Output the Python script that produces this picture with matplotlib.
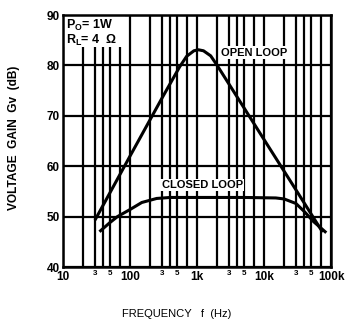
import matplotlib
matplotlib.use("Agg")
import matplotlib.pyplot as plt
from matplotlib.patches import Rectangle

# ---- data ----
open_f = [30, 100, 300, 550, 700, 900, 1050, 1250, 1600, 2000, 3000, 10000, 30000, 75000]
open_gain = [49.3, 62.0, 73.5, 79.7, 81.8, 82.9, 83.1, 82.9, 81.9, 80.0, 76.3, 65.3, 55.3, 46.9]

closed_f = [35, 50, 65, 100, 150, 250, 400, 1000, 5000, 15000, 20000, 30000, 40000, 55000, 85000]
closed_gain = [47.0, 48.8, 50.0, 51.4, 52.8, 53.6, 53.8, 53.8, 53.8, 53.7, 53.5, 52.6, 51.0, 49.0, 46.8]

major_x = [10, 100, 1000, 10000, 100000]
major_x_labels = ["10", "100", "1k", "10k", "100k"]
minor_x = [20, 30, 40, 50, 70, 200, 300, 400, 500, 700,
           2000, 3000, 4000, 5000, 7000, 20000, 30000, 40000, 50000, 70000]
minor_x_labels = ["", "3", "", "5", "", "", "3", "", "5", "",
                  "", "3", "", "5", "", "", "3", "", "5", ""]
y_ticks = [40, 50, 60, 70, 80, 90]
y_tick_labels = ["40", "50", "60", "70", "80", "90"]

FONT = "Liberation Sans"

fig = plt.figure(figsize=(3.45, 3.27), dpi=100)
ax = fig.add_axes([63 / 345, 1 - 267 / 327, (331 - 63) / 345, (267 - 15) / 327])

ax.set_xscale("log")
ax.set_xlim(10, 100000)
ax.set_ylim(40, 90)

ax.set_xticks(major_x)
ax.set_xticklabels(major_x_labels)
ax.set_xticks(minor_x, minor=True)
ax.set_xticklabels(minor_x_labels, minor=True)
ax.set_yticks(y_ticks)
ax.set_yticklabels(y_tick_labels)

ax.tick_params(axis="both", which="both", length=0)
ax.tick_params(axis="x", which="major", labelsize=8.5, pad=3.2)
ax.tick_params(axis="x", which="minor", labelsize=5.8, pad=2.2)
ax.tick_params(axis="y", labelsize=8.5, pad=2.5)
for lab in ax.get_xticklabels(which="both") + ax.get_yticklabels():
    lab.set_fontfamily(FONT)
    lab.set_fontweight("bold")

ax.set_axisbelow(True)
ax.grid(which="both", color="black", linewidth=1.6)
for s in ax.spines.values():
    s.set_linewidth(1.8)

# white box behind the parameter text
ax.add_patch(Rectangle((0, 0.873), 0.232, 0.127, transform=ax.transAxes,
                       facecolor="white", edgecolor="none", zorder=1))
ax.text(0.01, 0.99, r"P$_{\mathregular{O}}$= 1W", transform=ax.transAxes,
        ha="left", va="top", fontsize=9, fontfamily=FONT, fontweight="bold", zorder=3)
ax.text(0.01, 0.93, r"R$_{\mathregular{L}}$= 4  Ω", transform=ax.transAxes,
        ha="left", va="top", fontsize=9, fontfamily=FONT, fontweight="bold", zorder=3)

ax.plot(open_f, open_gain, color="black", linewidth=2.2, zorder=2,
        solid_capstyle="butt", solid_joinstyle="round")
ax.plot(closed_f, closed_gain, color="black", linewidth=2.2, zorder=2,
        solid_capstyle="butt", solid_joinstyle="round")

ax.text(7100, 82.5, "OPEN LOOP", ha="center", va="center", fontsize=8,
        fontfamily=FONT, fontweight="bold", zorder=3,
        bbox=dict(facecolor="white", edgecolor="none", pad=1.0))
ax.text(1200, 56.3, "CLOSED LOOP", ha="center", va="center", fontsize=8,
        fontfamily=FONT, fontweight="bold", zorder=3,
        bbox=dict(facecolor="white", edgecolor="none", pad=1.0))

fig.text(14 / 345, 1 - 138 / 327, "VOLTAGE  GAIN  Gv  (dB)", rotation=90,
         ha="center", va="center", fontsize=8.6, fontfamily=FONT, fontweight="bold")
fig.text(177 / 345, 1 - 314 / 327, "FREQUENCY   f  (Hz)",
         ha="center", va="center", fontsize=8, fontfamily=FONT)

fig.savefig("out.png", dpi=100)
